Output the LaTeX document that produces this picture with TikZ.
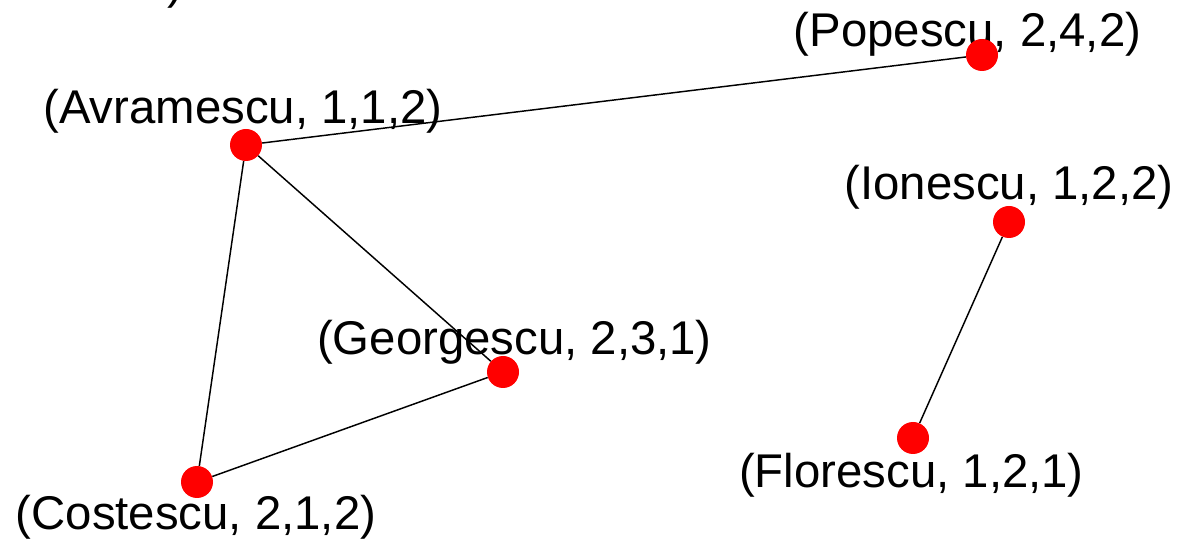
\documentclass[tikz,border=0pt]{standalone}
\usepackage{fontspec}
\setmainfont{Liberation Sans}
\begin{document}
\begin{tikzpicture}[x=0.75pt,y=-0.75pt,
  lbl/.style={anchor=base,inner sep=0pt,font=\fontsize{35.5}{42}\selectfont},
  dot/.style={circle,fill=red,draw=none,minimum size=24pt,inner sep=0pt},
  edge/.style={draw=black,line width=1.1pt}]
\useasboundingbox (0,0) rectangle (1179,541);
% labels
\node[lbl,anchor=base east] (ltop) at (184,-1) {)};
\node[lbl] (lavr) at (243,124) {(Avramescu, 1,1,2)};
\node[lbl] (lpop) at (967.5,47) {(Popescu, 2,4,2)};
\node[lbl] (lion) at (1009,200) {(Ionescu, 1,2,2)};
\node[lbl] (lgeo) at (514.5,355) {(Georgescu, 2,3,1)};
\node[lbl] (lcos) at (196,530) {(Costescu, 2,1,2)};
\node[lbl] (lflo) at (911.5,488) {(Florescu, 1,2,1)};
% dots
\node[dot] (avr) at (246,145) {};
\node[dot] (pop) at (982,55) {};
\node[dot] (ion) at (1009,222) {};
\node[dot] (geo) at (503,372) {};
\node[dot] (cos) at (197,482) {};
\node[dot] (flo) at (913,438) {};
% edges
\draw[edge] (avr) -- (pop);
\draw[edge] (avr) -- (geo);
\draw[edge] (avr) -- (cos);
\draw[edge] (cos) -- (geo);
\draw[edge] (ion) -- (flo);
\end{tikzpicture}
\end{document}
